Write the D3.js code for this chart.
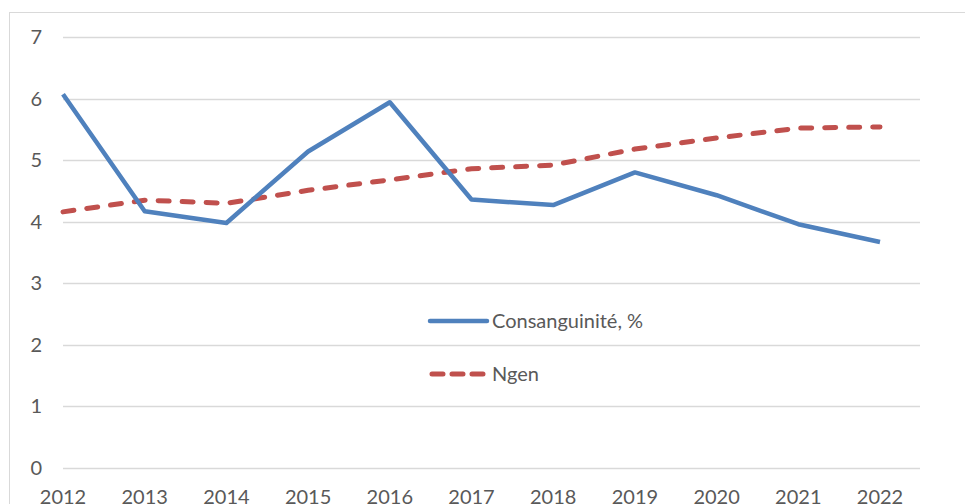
<!DOCTYPE html>
<html lang="fr">
<meta charset="utf-8">
<head>
  <title>Consanguinité et Ngen</title>
  <script src="https://d3js.org/d3.v7.min.js"></script>
  <style>
    body { margin: 0; background: #fff; }
    text { font-family: Lato, "Open Sans", sans-serif; fill: #595959; }
  </style>
</head>
<body>
<script>
var width = 965,
    height = 504;

// data
var years = [2012, 2013, 2014, 2015, 2016, 2017, 2018, 2019, 2020, 2021, 2022];
var consang = [6.07, 4.17, 3.98, 5.14, 5.94, 4.36, 4.27, 4.80, 4.43, 3.96, 3.67];
var ngen = [4.16, 4.35, 4.30, 4.51, 4.68, 4.86, 4.92, 5.18, 5.36, 5.52, 5.54];
var yTicks = [0, 1, 2, 3, 4, 5, 6, 7];
var seriesNames = ["Consanguinité, %", "Ngen"];

var svg = d3.select("body").append("svg")
    .attr("width", width)
    .attr("height", height);

// outer chart border (runs off the right and bottom)
svg.append("rect")
    .attr("x", 9.5).attr("y", 12.5)
    .attr("width", 1000).attr("height", 600)
    .style("fill", "none")
    .style("stroke", "#d9d9d9");

var x = d3.scalePoint()
    .domain(years)
    .range([63, 880]);

var y = d3.scaleLinear()
    .domain([0, 7])
    .range([468, 37]);

var gridRight = 920;

// gridlines
svg.append("g").selectAll("line")
    .data(yTicks)
    .enter().append("line")
    .attr("x1", 63).attr("x2", gridRight)
    .attr("y1", function(d) { return Math.round(y(d)) + 0.5; })
    .attr("y2", function(d) { return Math.round(y(d)) + 0.5; })
    .style("stroke", "#d9d9d9")
    .style("stroke-width", 1.5);

// y labels
svg.append("g").selectAll("text")
    .data(yTicks)
    .enter().append("text")
    .attr("x", 42)
    .attr("y", function(d) { return y(d); })
    .attr("dy", "0.35em")
    .attr("text-anchor", "end")
    .style("font-size", "20px")
    .text(function(d) { return d; });

// x labels (cut by the bottom edge)
svg.append("g").selectAll("text")
    .data(years)
    .enter().append("text")
    .attr("x", function(d) { return x(d); })
    .attr("y", 504)
    .attr("text-anchor", "middle")
    .style("font-size", "20px")
    .text(function(d) { return d; });

var line = d3.line()
    .x(function(d, i) { return x(years[i]); })
    .y(function(d) { return y(d); });

svg.append("path")
    .datum(ngen)
    .attr("d", line)
    .style("fill", "none")
    .style("stroke", "#c0504d")
    .style("stroke-width", 5)
    .style("stroke-linecap", "round")
    .style("stroke-linejoin", "round")
    .style("stroke-dasharray", "11,13");

svg.append("path")
    .datum(consang)
    .attr("d", line)
    .style("fill", "none")
    .style("stroke", "#4f81bd")
    .style("stroke-width", 4.5)
    .style("stroke-linejoin", "round");

// legend
var legend = svg.selectAll(".legend")
    .data(seriesNames)
    .enter().append("g")
    .attr("class", "legend")
    .attr("transform", function(d, i) {
      return "translate(430," + (321 + i * 53) + ")";
    });

legend.append("line")
    .attr("x1", function(d, i) { return i == 0 ? 0 : 2; })
    .attr("x2", function(d, i) { return i == 0 ? 57 : 53; })
    .attr("y1", 0).attr("y2", 0)
    .style("stroke", function(d, i) { return i == 0 ? "#4f81bd" : "#c0504d"; })
    .style("stroke-width", function(d, i) { return i == 0 ? 4.5 : 5; })
    .style("stroke-linecap", "round")
    .style("stroke-dasharray", function(d, i) { return i == 0 ? null : "11,9"; });

legend.append("text")
    .attr("x", 62)
    .attr("y", 0)
    .attr("dy", "0.35em")
    .style("font-size", "20px")
    .text(function(d) { return d; });
</script>
</body>
</html>
